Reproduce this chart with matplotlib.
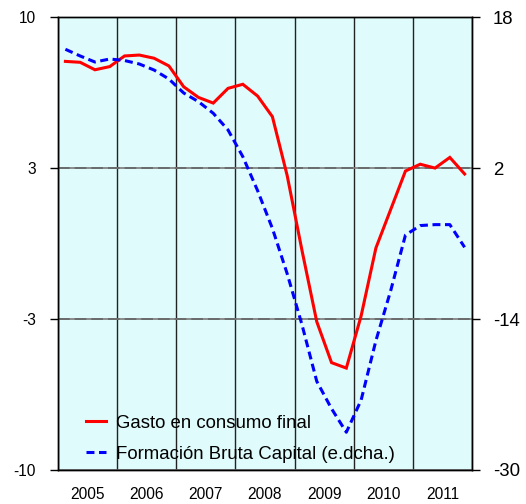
import matplotlib
matplotlib.use("Agg")
import matplotlib.pyplot as plt
import numpy as np

# ---- data (quarterly, 2005Q1 - 2011Q4) ----
years = ["2005", "2006", "2007", "2008", "2009", "2010", "2011"]
gasto = [8.04, 8.00, 7.67, 7.81, 8.28, 8.32, 8.18, 7.84,
         6.92, 6.45, 6.20, 6.85, 7.03, 6.51, 5.60, 3.00,
         -0.30, -3.45, -5.26, -5.50, -3.20, -0.20, 1.50, 3.20,
         3.50, 3.33, 3.80, 3.07]
fbc = [14.58, 13.87, 13.23, 13.55, 13.39, 13.02, 12.38, 11.43,
       9.95, 9.03, 7.80, 6.03, 3.20, -0.40, -4.40, -9.20,
       -14.60, -20.60, -23.50, -26.00, -22.60, -16.30, -11.00, -5.10,
       -4.10, -4.00, -4.00, -6.40]
label_gasto = "Gasto en consumo final"
label_fbc = "Formación Bruta Capital (e.dcha.)"
left_ticks = [-10, -10/3, 10/3, 10]
left_tick_labels = ["-10", "-3", "3", "10"]
right_ticks = [-30, -14, 2, 18]
right_tick_labels = ["-30", "-14", "2", "18"]

plt.rcParams["font.family"] = ["Liberation Sans", "DejaVu Sans"]

W, H = 526, 504
fig = plt.figure(figsize=(W/100, H/100), dpi=100)
ax = fig.add_axes([58/W, 1-470/H, (472-58)/W, (470-17)/H])
ax.set_facecolor("#E0FBFB")
ax2 = ax.twinx()
ax2.patch.set_visible(False)

nq = len(gasto)
x = np.arange(nq) + 0.5
ax.set_xlim(0, nq)
ax.set_ylim(-10, 10)
ax2.set_ylim(-30, 18)

l1, = ax.plot(x, gasto, color="#FF0000", lw=2.2, solid_joinstyle="miter", zorder=3)
l2, = ax2.plot(x, fbc, color="#0000FF", lw=2.2, linestyle=(0, (2.6, 1.5)), zorder=3)

# x axis: year labels centred in each year, year boundaries as grid
ax.set_xticks([4*i + 2 for i in range(len(years))])
ax.set_xticklabels(years, fontsize=11.2)
ax.set_xticks([4*i for i in range(len(years)+1)], minor=True)
ax.tick_params(axis="x", which="both", length=0, pad=12)
ax.grid(axis="x", which="minor", color="#222222", lw=1.0, zorder=1)

ax.set_yticks(left_ticks)
ax.set_yticklabels(left_tick_labels, fontsize=11.2)
ax.tick_params(axis="y", length=6, width=1.0, direction="out", pad=10, color="black")
ax.grid(axis="y", color="#7a7a7a", lw=1.2, linestyle="-", zorder=1)
for v in left_ticks[1:-1]:
    ax.axhline(v, color="black", lw=1.2, linestyle=(0, (7, 3)), zorder=1.5)

ax2.set_yticks(right_ticks)
ax2.set_yticklabels(right_tick_labels, fontsize=13.4)
ax2.tick_params(axis="y", length=6, width=1.0, direction="out", pad=9, color="black")

for a in (ax, ax2):
    for s in a.spines.values():
        s.set_color("black")
        s.set_linewidth(1.0)

leg = ax2.legend([l1, l2], [label_gasto, label_fbc], loc="lower left",
                 bbox_to_anchor=(0.049, 0.0), frameon=False, fontsize=13.4,
                 handlelength=1.1, handletextpad=0.55, labelspacing=0.75,
                 borderaxespad=0.0)
leg.set_zorder(10)

fig.savefig("out.png", dpi=100)
